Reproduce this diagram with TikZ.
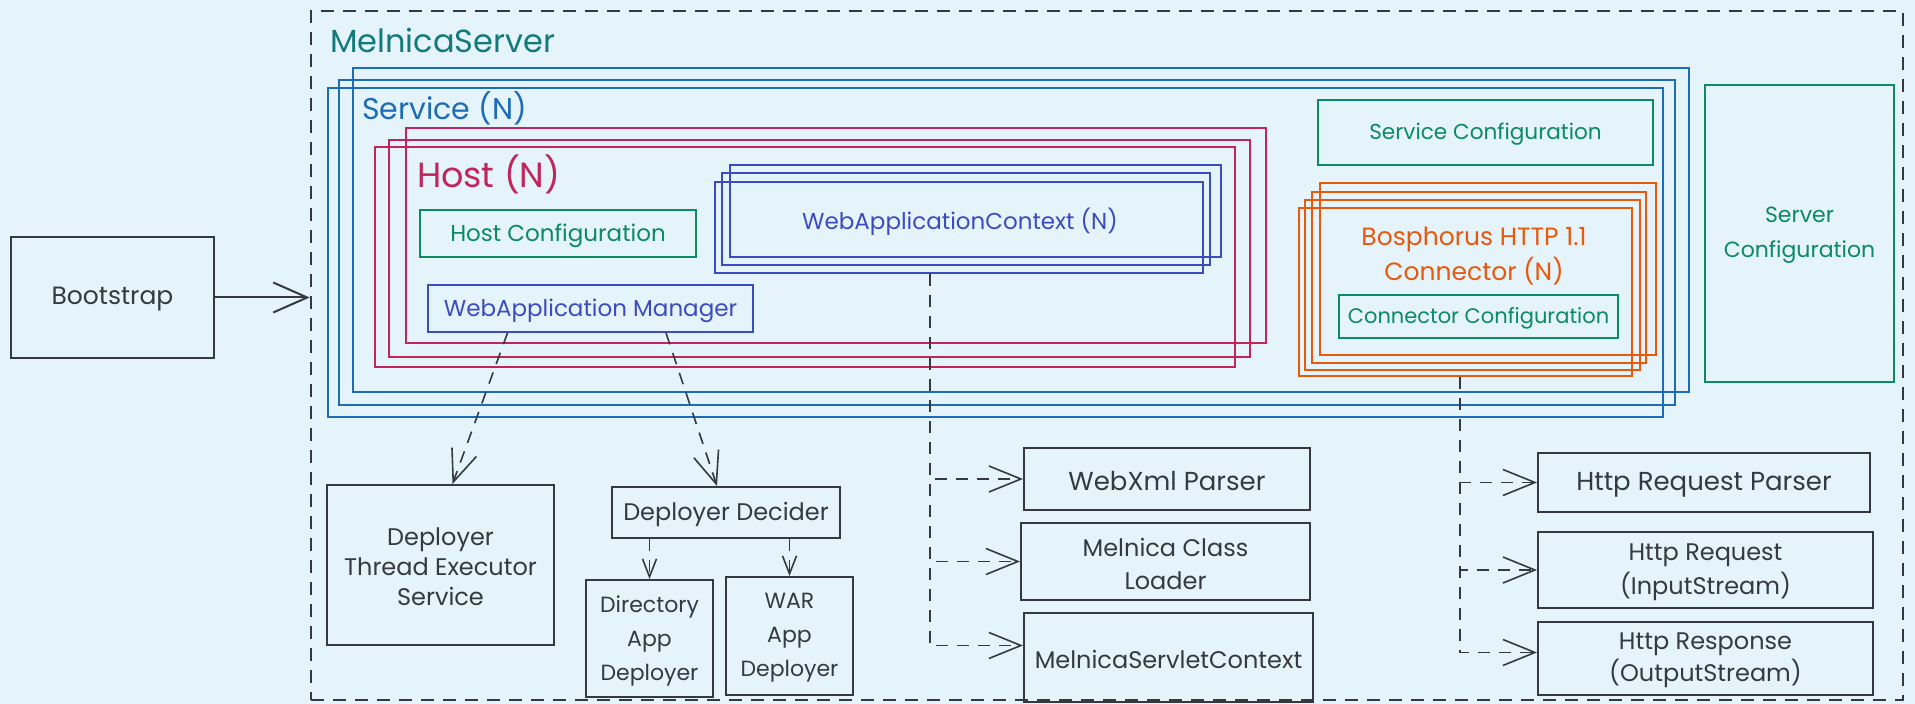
\documentclass[tikz,border=0pt]{standalone}
\usepackage{fontspec}
\setmainfont{Poppins}
\usetikzlibrary{fit,arrows.meta,calc}
\definecolor{bg}{HTML}{E5F3FB}
\definecolor{ink}{HTML}{343A40}
\definecolor{tealc}{HTML}{127A7A}
\definecolor{svcblue}{HTML}{1C6CB8}
\definecolor{hostred}{HTML}{C2255C}
\definecolor{cfggreen}{HTML}{0B8A64}
\definecolor{indigoc}{HTML}{3B4CC0}
\definecolor{orangec}{HTML}{E8590C}
\newcommand\fsz[2]{\fontsize{#1}{#2}\selectfont}
\begin{document}
\begin{tikzpicture}[x=0.5pt,y=-0.5pt,
  box/.style={draw=ink, line width=0.95pt, inner sep=0pt},
  txt/.style={align=center, text=ink, inner sep=0pt, yshift=-1pt, font=\fsz{12pt}{16pt}},
  stack/.style={draw, line width=0.85pt, inner sep=0pt},
  outer/.style={draw=ink, line width=1.3pt, dash pattern=on 6.5pt off 4.5pt, inner sep=0pt},
  conn/.style={draw=ink, line width=0.8pt, dash pattern=on 6pt off 4.5pt, -{Straight Barb[length=16pt,width=13pt,line width=0.8pt]}},
  sconn/.style={draw=ink, line width=0.8pt, dash pattern=on 6pt off 4.5pt, -{Straight Barb[length=9pt,width=7pt,line width=0.8pt]}},
  solidarrow/.style={draw=ink, line width=1pt, -{Straight Barb[length=17pt,width=15pt,line width=1pt]}},
  cfg/.style={box, draw=cfggreen},
  cfgtxt/.style={txt, text=cfggreen},
  ind/.style={box, draw=indigoc},
  indtxt/.style={txt, text=indigoc}
]
\fill[bg] (0,0) rectangle (1915,704);
\useasboundingbox (0,0) rectangle (1915,704);

% server frame
\node[outer, fit={(311,11) (1903,700)}] (server) {};
\node[anchor=west, text=tealc, font=\fsz{16pt}{18pt}] (title) at (323,40) {MelnicaServer};

% services
\node[stack, draw=svcblue, fit={(353,68) (1689,392)}] (svc1) {};
\node[stack, draw=svcblue, fit={(339,80) (1675,405)}] (svc2) {};
\node[stack, draw=svcblue, fit={(328,88) (1663,417)}] (svc) {};
\node[anchor=west, text=svcblue, font=\fsz{15pt}{17pt}] (svclabel) at (355,108) {Service (N)};

% hosts
\node[stack, draw=hostred, fit={(406,128) (1266,343)}] (host1) {};
\node[stack, draw=hostred, fit={(389,140) (1250,357)}] (host2) {};
\node[stack, draw=hostred, fit={(375,147) (1235,367)}] (host) {};
\node[anchor=west, text=hostred, font=\fsz{17.5pt}{20pt}] (hostlabel) at (410,174) {Host (N)};

\node[cfg, fit={(420,210) (696,257)}] (hostcfg) {};
\node[cfgtxt, font=\fsz{11.5pt}{14pt}] (hostcfgT) at (hostcfg) {Host Configuration};
\node[ind, fit={(428,285) (753,332)}] (wam) {};
\node[indtxt, font=\fsz{11.5pt}{14pt}] (wamT) at (wam) {WebApplication Manager};

% web application contexts
\node[stack, draw=indigoc, fit={(730,165) (1221,257)}] (wac1) {};
\node[stack, draw=indigoc, fit={(722,173) (1210,265)}] (wac2) {};
\node[stack, draw=indigoc, fit={(715,182) (1203,273)}] (wac) {};
\node[indtxt, font=\fsz{11.5pt}{14pt}] (waclabel) at (960,220) {WebApplicationContext (N)};

% service configuration
\node[cfg, fit={(1318,100) (1653,165)}] (svccfg) {};
\node[cfgtxt, font=\fsz{10.8pt}{14pt}] (svccfgT) at (svccfg) {Service Configuration};

% connectors
\node[stack, draw=orangec, fit={(1320,183) (1656,355)}] (con1) {};
\node[stack, draw=orangec, fit={(1312,192) (1646,363)}] (con2) {};
\node[stack, draw=orangec, fit={(1305,200) (1640,370)}] (con3) {};
\node[stack, draw=orangec, fit={(1299,208) (1632,376)}] (con) {};
\node[txt, text=orangec, font=\fsz{12.5pt}{17.5pt}] (conlabel) at (1474,254) {Bosphorus HTTP 1.1\\Connector (N)};
\node[cfg, fit={(1339,295) (1618,338)}] (concfg) {};
\node[cfgtxt, font=\fsz{10.5pt}{14pt}] (concfgT) at (concfg) {Connector Configuration};

% server configuration
\node[cfg, fit={(1705,85) (1894,382)}] (srvcfg) {};
\node[cfgtxt, font=\fsz{11pt}{17.5pt}] (srvcfgT) at (srvcfg) {Server\\Configuration};

% bootstrap
\node[box, fit={(11,237) (214,358)}] (boot) {};
\node[txt, font=\fsz{12.5pt}{15pt}] (bootT) at (boot) {Bootstrap};
\draw[solidarrow] (boot.east) -- (boot.east -| server.west);

% lower boxes
\node[box, fit={(327,485) (554,645)}] (dtes) {};
\node[txt, font=\fsz{12pt}{15pt}] (dtesT) at (dtes) {Deployer\\Thread Executor\\Service};
\node[box, fit={(612,487) (840,538)}] (dd) {};
\node[txt] (ddT) at (dd) {Deployer Decider};
\node[box, fit={(586,580) (713,697)}] (dir) {};
\node[txt, font=\fsz{11pt}{17pt}] (dirT) at (dir) {Directory\\App\\Deployer};
\node[box, fit={(726,577) (853,695)}] (war) {};
\node[txt, font=\fsz{11pt}{17pt}] (warT) at (war) {WAR\\App\\Deployer};

\node[box, fit={(1024,448) (1310,510)}] (webxml) {};
\node[txt, font=\fsz{13pt}{16pt}] (webxmlT) at (webxml) {WebXml Parser};
\node[box, fit={(1021,523) (1310,600)}] (mcl) {};
\node[txt, font=\fsz{12pt}{16.5pt}] (mclT) at (mcl) {Melnica Class\\Loader};
\node[box, fit={(1024,613) (1313,702)}] (msc) {};
\node[txt] (mscT) at (msc) {MelnicaServletContext};

\node[box, fit={(1538,453) (1870,512)}] (hrp) {};
\node[txt, font=\fsz{13pt}{16pt}] (hrpT) at (hrp) {Http Request Parser};
\node[box, fit={(1538,532) (1873,608)}] (hreq) {};
\node[txt, font=\fsz{12pt}{17pt}] (hreqT) at (hreq) {Http Request\\(InputStream)};
\node[box, fit={(1538,622) (1873,695)}] (hresp) {};
\node[txt, font=\fsz{12pt}{16pt}] (hrespT) at (hresp) {Http Response\\(OutputStream)};

% dependency connectors
\draw[conn] ([xshift=-41.5pt]wam.south) -- ([xshift=6pt]dtes.north);
\draw[conn] ([xshift=37.75pt]wam.south) -- ([xshift=-4.5pt]dd.north);
\draw[sconn] (dd.south -| dir.north) -- (dir.north);
\draw[sconn] (dd.south -| war.north) -- (war.north);

\draw[conn] ([xshift=-14.5pt]wac.south) |- (webxml.west);
\draw[conn] ([xshift=-14.5pt]wac.south) |- (mcl.west);
\draw[conn] ([xshift=-14.5pt]wac.south) |- ([yshift=6pt]msc.west);

\draw[conn] ([xshift=-2.75pt]con.south) |- (hrp.west);
\draw[conn] ([xshift=-2.75pt]con.south) |- (hreq.west);
\draw[conn] ([xshift=-2.75pt]con.south) |- ([yshift=3pt]hresp.west);
\end{tikzpicture}
\end{document}
